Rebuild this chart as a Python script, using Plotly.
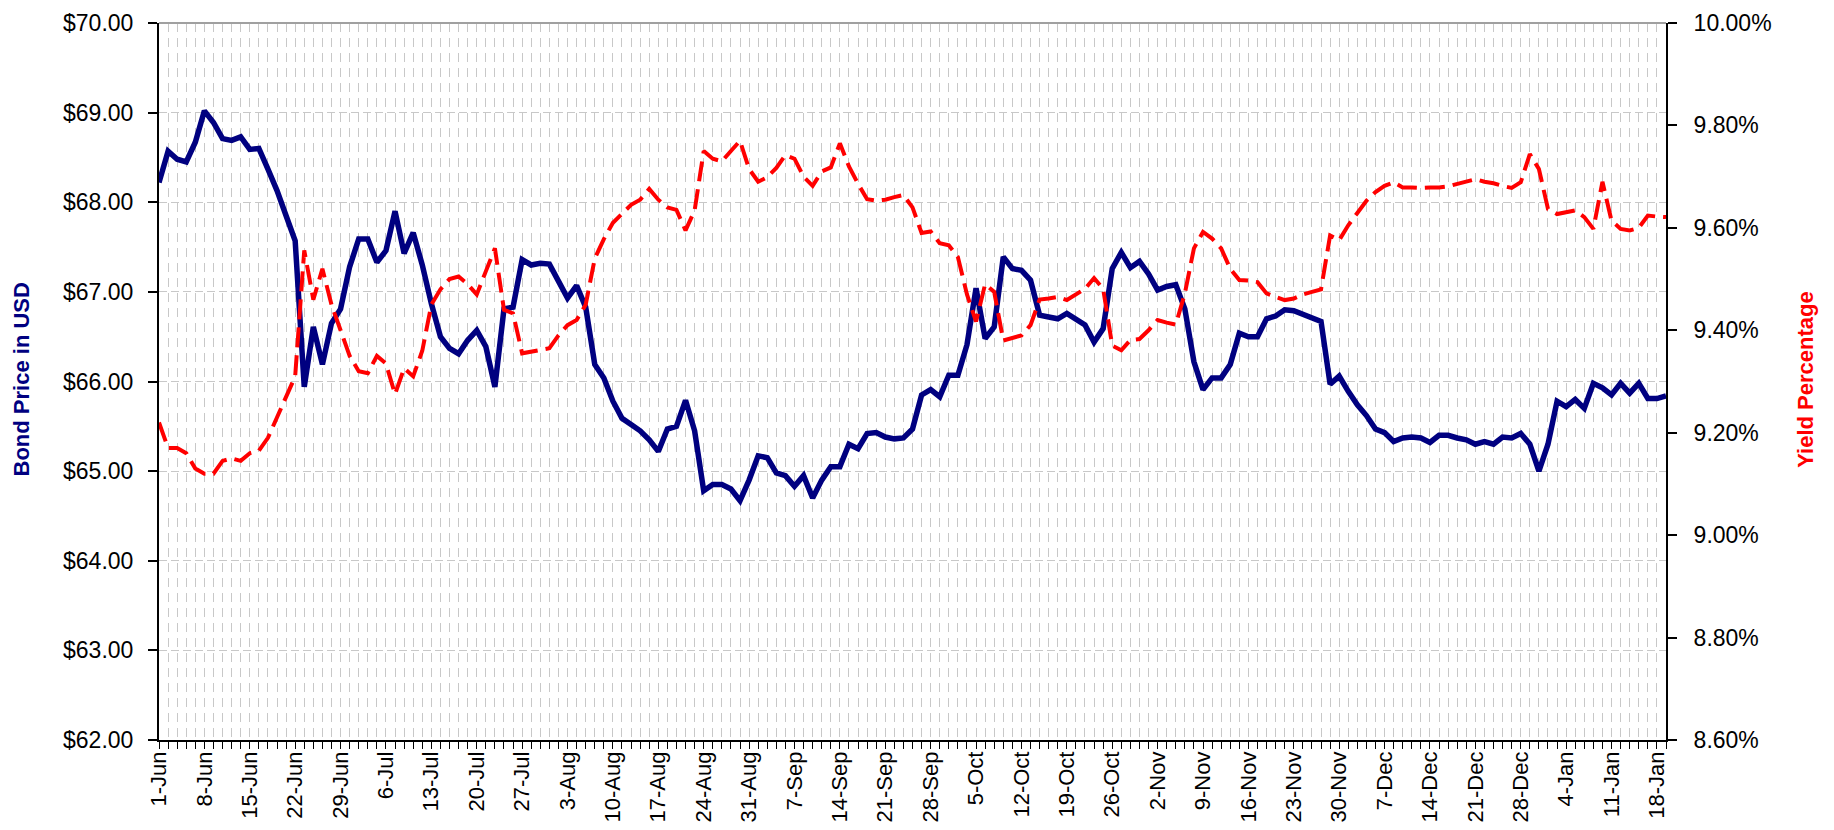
import plotly.graph_objects as go

week_labels = ["1-Jun", "8-Jun", "15-Jun", "22-Jun", "29-Jun", "6-Jul", "13-Jul", "20-Jul",
               "27-Jul", "3-Aug", "10-Aug", "17-Aug", "24-Aug", "31-Aug", "7-Sep", "14-Sep",
               "21-Sep", "28-Sep", "5-Oct", "12-Oct", "19-Oct", "26-Oct", "2-Nov", "9-Nov",
               "16-Nov", "23-Nov", "30-Nov", "7-Dec", "14-Dec", "21-Dec", "28-Dec", "4-Jan",
               "11-Jan", "18-Jan"]

bond_price = [
    68.22, 68.57, 68.48, 68.45, 68.67, 69.02, 68.89, 68.71, 68.69, 68.73,
    68.59, 68.60, 68.37, 68.13, 67.85, 67.57, 65.94, 66.61, 66.19, 66.65,
    66.81, 67.28, 67.59, 67.59, 67.33, 67.46, 67.90, 67.43, 67.66, 67.30,
    66.87, 66.50, 66.37, 66.31, 66.46, 66.57, 66.39, 65.94, 66.81, 66.83,
    67.36, 67.30, 67.32, 67.31, 67.12, 66.93, 67.07, 66.83, 66.19, 66.04,
    65.78, 65.59, 65.52, 65.45, 65.35, 65.22, 65.47, 65.50, 65.79, 65.45,
    64.78, 64.85, 64.85, 64.80, 64.67, 64.90, 65.17, 65.15, 64.98, 64.95,
    64.83, 64.95, 64.70, 64.90, 65.05, 65.05, 65.30, 65.25, 65.42, 65.43,
    65.38, 65.36, 65.37, 65.47, 65.85, 65.91, 65.83, 66.07, 66.07, 66.41,
    67.04, 66.48, 66.61, 67.39, 67.26, 67.24, 67.13, 66.74, 66.72, 66.70,
    66.76, 66.69, 66.63, 66.44, 66.59, 67.26, 67.44, 67.27, 67.34, 67.20,
    67.02, 67.06, 67.08, 66.81, 66.22, 65.91, 66.04, 66.04, 66.19, 66.54,
    66.50, 66.50, 66.70, 66.73, 66.80, 66.79, 66.75, 66.70, 66.67, 65.97,
    66.06, 65.89, 65.74, 65.62, 65.47, 65.43, 65.33, 65.37, 65.38, 65.37,
    65.32, 65.40, 65.40, 65.37, 65.35, 65.30, 65.33, 65.30, 65.38, 65.37,
    65.42, 65.30, 65.00, 65.30, 65.78, 65.72, 65.80, 65.70, 65.98, 65.93,
    65.85, 65.98, 65.87, 65.98, 65.81, 65.81, 65.84,
]

yield_pct = [
    9.22, 9.17, 9.17, 9.16, 9.13, 9.12, 9.12, 9.145, 9.15, 9.145,
    9.16, 9.165, 9.19, 9.23, 9.27, 9.31, 9.556, 9.46, 9.52, 9.45,
    9.40, 9.35, 9.32, 9.316, 9.35, 9.335, 9.275, 9.326, 9.31, 9.36,
    9.45, 9.48, 9.50, 9.505, 9.49, 9.47, 9.515, 9.56, 9.44, 9.433,
    9.355, 9.358, 9.362, 9.365, 9.39, 9.41, 9.42, 9.45, 9.54, 9.578,
    9.61, 9.627, 9.645, 9.655, 9.676, 9.655, 9.64, 9.635, 9.595, 9.634,
    9.75, 9.735, 9.73, 9.75, 9.77, 9.715, 9.69, 9.699, 9.717, 9.742,
    9.735, 9.70, 9.682, 9.71, 9.718, 9.765, 9.72, 9.686, 9.656, 9.653,
    9.655, 9.66, 9.664, 9.64, 9.59, 9.593, 9.57, 9.566, 9.543, 9.47,
    9.417, 9.49, 9.475, 9.38, 9.385, 9.39, 9.41, 9.46, 9.462, 9.465,
    9.459, 9.47, 9.481, 9.502, 9.481, 9.37, 9.361, 9.381, 9.383, 9.40,
    9.42, 9.415, 9.411, 9.472, 9.56, 9.592, 9.579, 9.56, 9.52, 9.498,
    9.497, 9.494, 9.472, 9.465, 9.459, 9.462, 9.47, 9.475, 9.48, 9.585,
    9.576, 9.605, 9.63, 9.653, 9.67, 9.682, 9.689, 9.679, 9.679, 9.678,
    9.679, 9.679, 9.681, 9.686, 9.692, 9.695, 9.69, 9.687, 9.682, 9.678,
    9.689, 9.744, 9.715, 9.637, 9.627, 9.63, 9.634, 9.621, 9.598, 9.69,
    9.614, 9.598, 9.595, 9.60, 9.624, 9.622, 9.621,
]

n = len(bond_price)
x_idx = list(range(n))
tick_pos = list(range(0, 5 * len(week_labels), 5))

FONT = "Arial, Liberation Sans, sans-serif"
GRID = "#C8C8C8"

fig = go.Figure()
fig.add_trace(go.Scatter(
    x=x_idx, y=bond_price, mode="lines", name="Bond Price",
    line=dict(color="#000080", width=5.5), yaxis="y",
))
fig.add_trace(go.Scatter(
    x=x_idx, y=yield_pct, mode="lines", name="Yield",
    line=dict(color="#FF0000", width=4, dash="20px,8px"), yaxis="y2",
))

fig.update_layout(
    width=1826, height=822,
    margin=dict(l=151, r=168, t=15, b=90, pad=0),
    paper_bgcolor="white", plot_bgcolor="white",
    showlegend=False,
    font=dict(family=FONT, color="black", size=22),
    xaxis=dict(
        range=[0, n - 1], automargin=False,
        tickmode="array", tickvals=tick_pos, ticktext=week_labels,
        tickangle=-90, tickfont=dict(size=22, family=FONT, color="black"),
        ticks="outside", ticklen=7, tickwidth=1, tickcolor="black",
        ticklabelstandoff=-6, ticklabeloverflow="allow",
        showline=True, linecolor="black", linewidth=1.5,
        showgrid=True, gridcolor=GRID, gridwidth=1, griddash="9px,6px",
        zeroline=False,
        minor=dict(tickmode="linear", tick0=0, dtick=1, ticks="outside", ticklen=7,
                   tickwidth=1, tickcolor="black",
                   showgrid=True, gridcolor=GRID, gridwidth=1, griddash="9px,6px"),
    ),
    yaxis=dict(
        range=[62, 70], automargin=False, tickmode="linear", tick0=62, dtick=1,
        tickprefix="$", tickformat=".2f",
        tickfont=dict(size=23, family=FONT, color="black"),
        ticks="outside", ticklen=9, tickwidth=1.5, tickcolor="black",
        ticklabelstandoff=10, ticklabeloverflow="allow",
        showline=True, linecolor="black", linewidth=2,
        showgrid=True, gridcolor=GRID, gridwidth=1, griddash="8px,4px",
        zeroline=False,
    ),
    yaxis2=dict(
        overlaying="y", side="right", automargin=False,
        range=[8.6, 10.0], tickmode="linear", tick0=8.6, dtick=0.2,
        ticksuffix="%", tickformat=".2f",
        tickfont=dict(size=23, family=FONT, color="black"),
        ticks="outside", ticklen=9, tickwidth=1.5, tickcolor="black",
        ticklabelstandoff=12, ticklabeloverflow="allow",
        showline=True, linecolor="black", linewidth=2,
        showgrid=False, zeroline=False,
    ),
    shapes=[dict(type="line", xref="paper", yref="paper", x0=0, x1=1, y0=1, y1=1,
                 line=dict(color="#A0A0A0", width=2))],
    annotations=[
        dict(text="<b>Bond Price in USD</b>", xref="paper", yref="paper",
             x=-0.0915, y=0.503, xanchor="center", yanchor="middle",
             textangle=-90, showarrow=False,
             font=dict(size=22, family=FONT, color="#000080")),
        dict(text="<b>Yield Percentage</b>", xref="paper", yref="paper",
             x=1.0925, y=0.503, xanchor="center", yanchor="middle",
             textangle=-90, showarrow=False,
             font=dict(size=22, family=FONT, color="#FF0000")),
    ],
)

fig.write_html("out.html")
